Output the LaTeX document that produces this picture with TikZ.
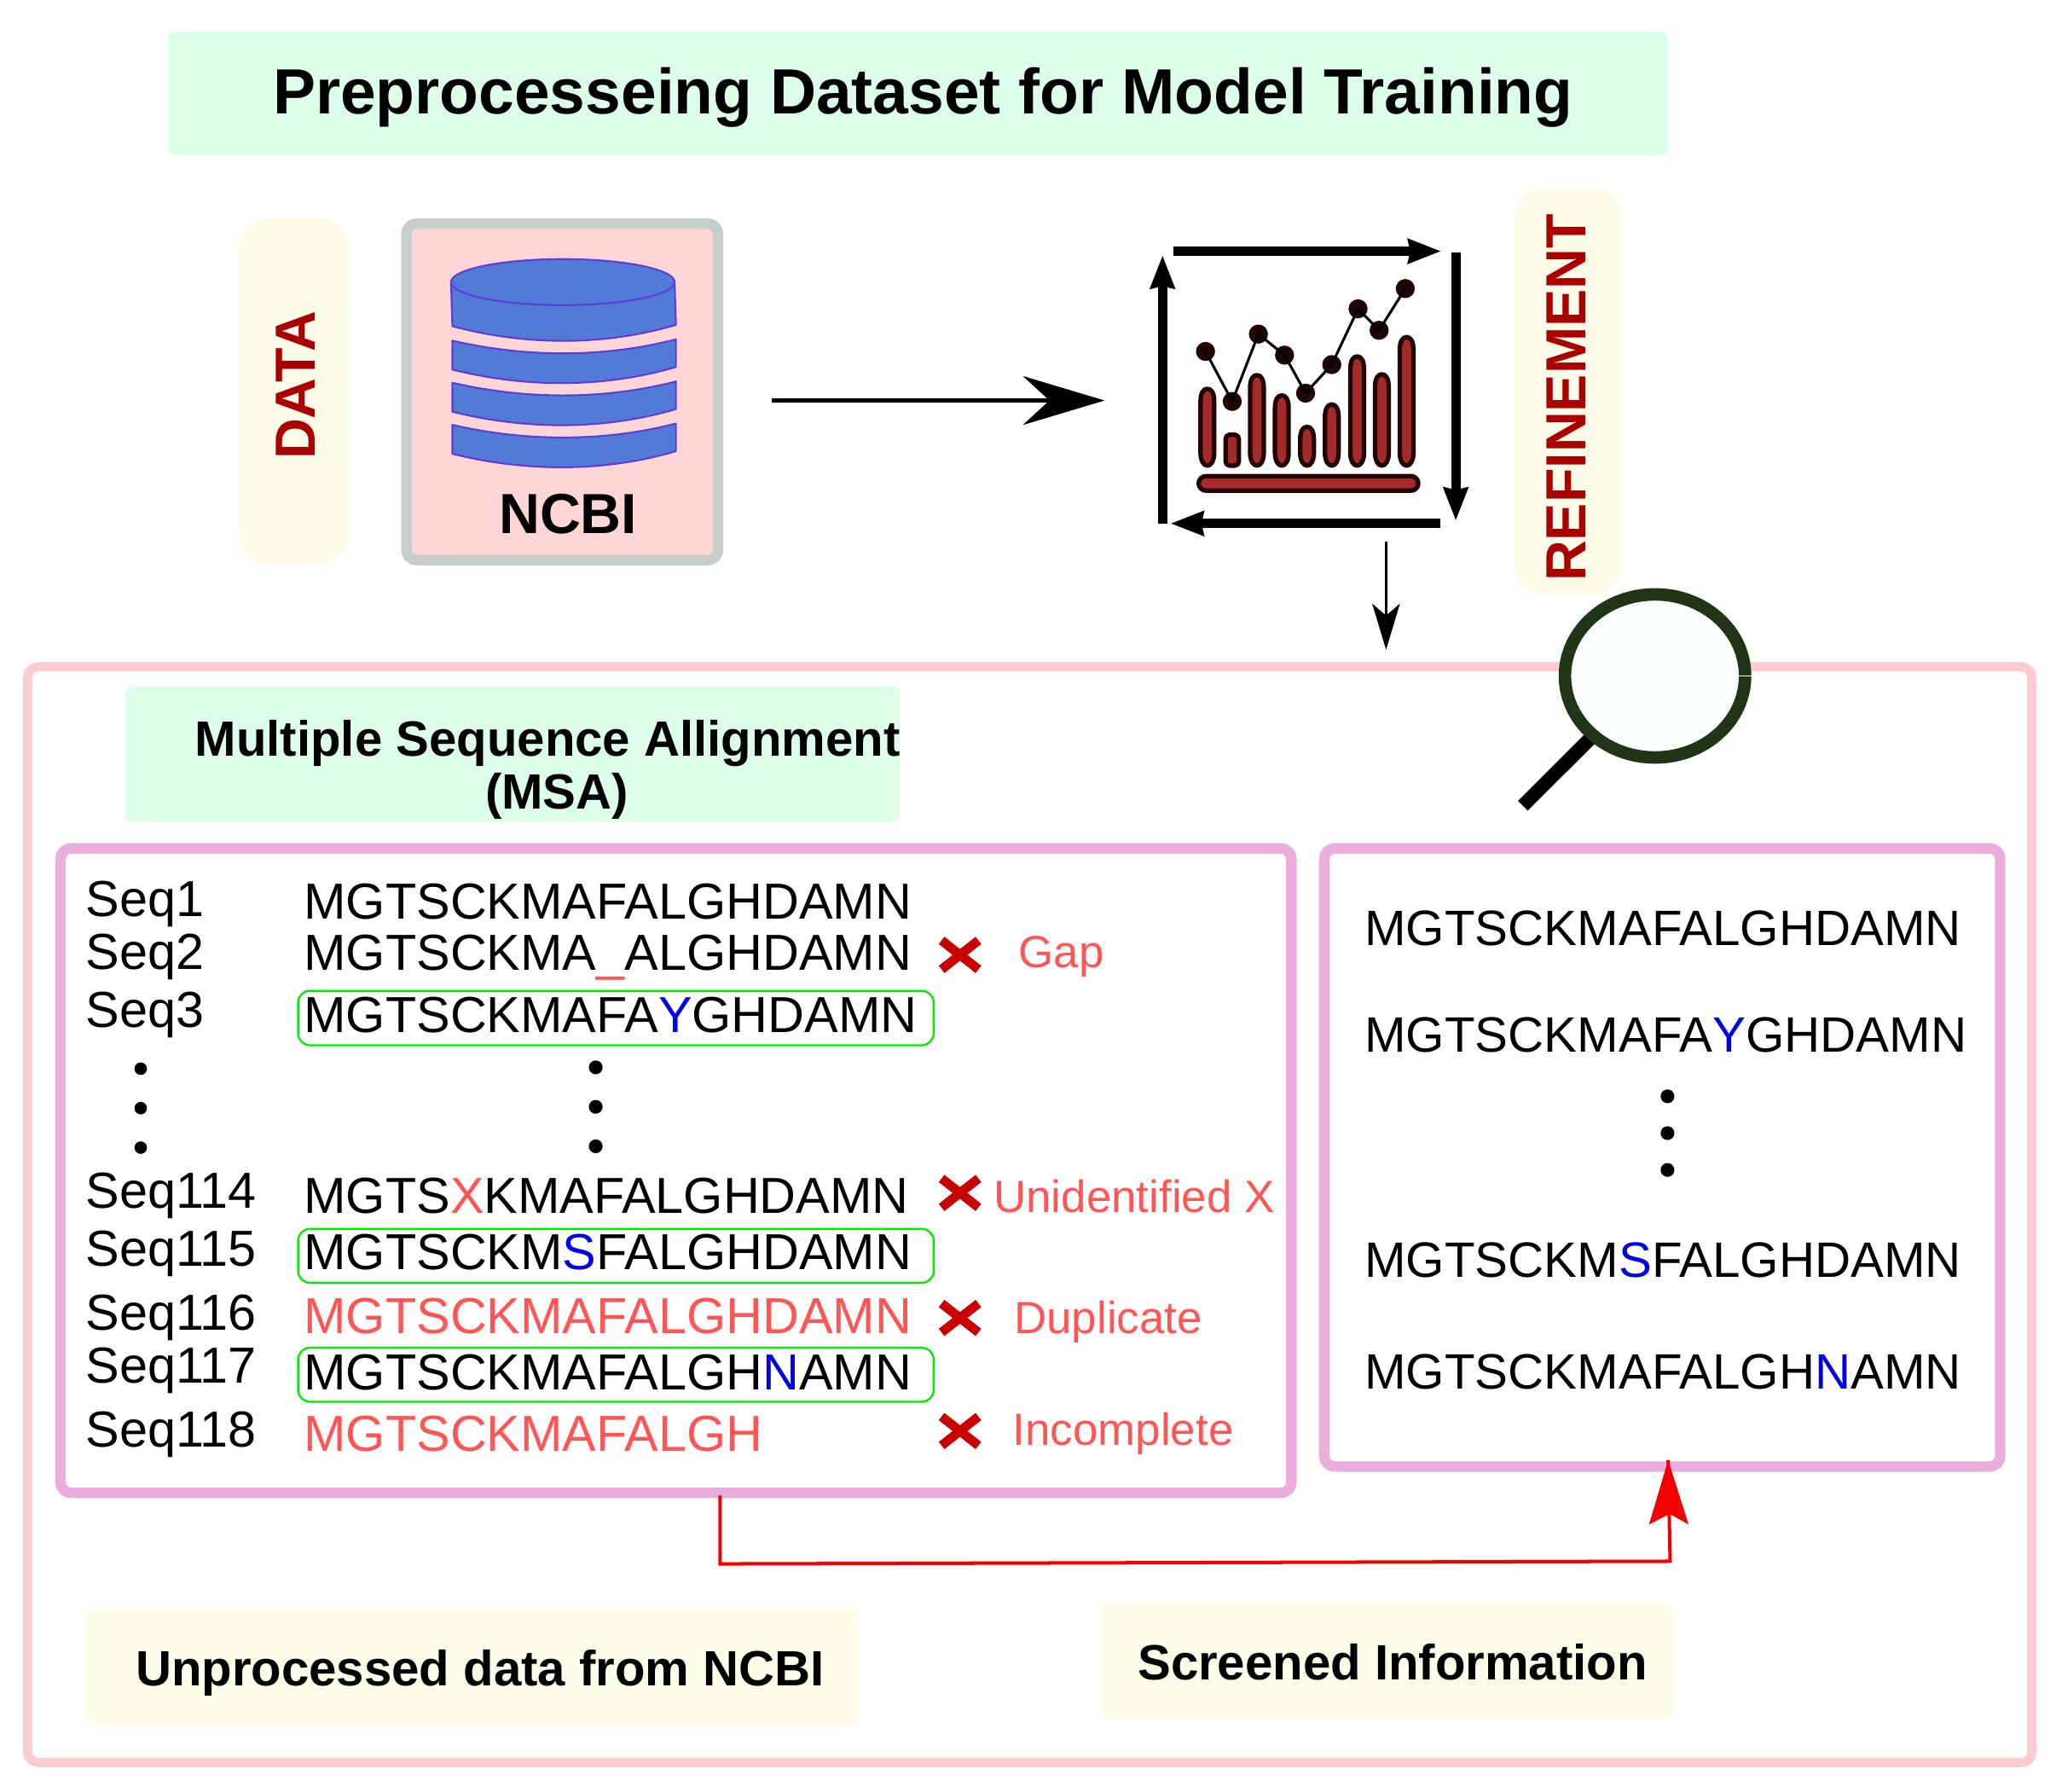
\documentclass[tikz,border=0pt]{standalone}
\usepackage{fontspec}
\setmainfont{Liberation Sans}
\usetikzlibrary{arrows.meta}
\definecolor{mint}{HTML}{DDFFE9}
\definecolor{cream}{HTML}{FDFCE9}
\definecolor{darkred}{HTML}{AA0000}
\definecolor{rosefill}{HTML}{FFD5D5}
\definecolor{graybd}{HTML}{C5CECB}
\definecolor{dbblue}{HTML}{527BD6}
\definecolor{dbline}{HTML}{5B3FD8}
\definecolor{pinkbd}{HTML}{FCCCD2}
\definecolor{orchid}{HTML}{EAADDC}
\definecolor{salmon}{HTML}{FF5555}
\definecolor{crossred}{HTML}{C80000}
\definecolor{barfill}{HTML}{A52A2A}
\definecolor{barline}{HTML}{200404}
\definecolor{lensbd}{HTML}{203515}
\definecolor{lensfill}{HTML}{FBFFFE}
\definecolor{seqblue}{HTML}{0000E6}
\newcommand{\fsz}[1]{\fontsize{#1}{#1}\selectfont}
\newcommand{\rb}[1]{{\color{seqblue}#1}}
\newcommand{\rs}[1]{{\color{salmon}#1}}
% \panel{name}{x1}{y1}{x2}{y2}{style}
\newcommand{\panel}[6]{%
  \pgfmathsetmacro{\pcx}{(#2+#4)/2}\pgfmathsetmacro{\pcy}{(#3+#5)/2}%
  \pgfmathsetmacro{\pw}{#4-#2}\pgfmathsetmacro{\ph}{#5-#3}%
  \node[#6,minimum width=\pw pt,minimum height=\ph pt,inner sep=0pt,outer sep=0pt] (#1) at (\pcx,\pcy) {};}
\newcommand{\crossmark}[2]{\draw[crossln] (#1-14,#2-11) -- (#1+14,#2+11) (#1-14,#2+11) -- (#1+14,#2-11);}
\newcommand{\band}[1]{\draw[dbshape] (344,#1) .. controls (400,#1+13) and (460,#1+13) .. (514,#1-1) -- (514,#1+20) .. controls (460,#1+36) and (400,#1+36) .. (344,#1+22) -- cycle;}
\tikzset{
  softmint/.style={rectangle,rounded corners=5pt,fill=mint},
  softcream/.style={rectangle,rounded corners=6pt,fill=cream},
  softpill/.style={rectangle,rounded corners=22pt,fill=cream},
  purplebox/.style={rectangle,rounded corners=8pt,draw=orchid,line width=8pt},
  greenbox/.style={rectangle,rounded corners=9pt,draw=green!93!black,line width=1.5pt},
  seqtxt/.style={anchor=base west,inner sep=0pt,font=\fsz{38.5}},
  cleantxt/.style={anchor=base west,inner sep=0pt,font=\fsz{37.8}},
  errtxt/.style={anchor=base west,inner sep=0pt,text=salmon,font=\fsz{34.3}},
  boldtxt/.style={inner sep=0pt,font=\fsz{37.7}\bfseries},
  sidetxt/.style={inner sep=0pt,text=darkred,rotate=90,font=\fsz{43}\bfseries},
  dbshape/.style={fill=dbblue,draw=dbline,line width=1.4pt,line join=round},
  crossln/.style={draw=crossred,line width=7pt},
  loopln/.style={line width=7pt,-{Stealth[length=25pt,width=18pt,inset=1.5pt]}},
  barshape/.style={fill=barfill,draw=barline,line width=3.4pt,line join=round},
  dotfill/.style={fill=barline,circle,inner sep=0pt,minimum size=14.5pt},
  seqdot/.style={fill=black,circle,inner sep=0pt,minimum size=9.5pt},
}
\begin{document}
\begin{tikzpicture}[x=1pt,y=-1pt]
\useasboundingbox (0,0) rectangle (1568,1361.8);
% title
\panel{titlebox}{128}{24}{1268}{118}{softmint}
\node[inner sep=0pt,font=\fsz{48.6}\bfseries] (titletxt) at (701.8,74) {Preprocesseing Dataset for Model Training};
% data
\panel{datapill}{182}{166}{265}{429}{softpill}
\node[sidetxt] (datatxt) at (225,293) {DATA};
\panel{ncbibox}{309}{170}{546}{426}{rectangle,rounded corners=8pt,fill=rosefill,draw=graybd,line width=8pt}
\draw[dbshape] (343,215) -- (344,248) .. controls (400,263) and (460,263) .. (514,247) -- (513,215) -- cycle;
\draw[dbshape] (428,214.5) ellipse [x radius=85,y radius=17.5];
\band{259}\band{291}\band{323}
\node[inner sep=0pt,font=\fsz{43}\bfseries] (ncbitxt) at (432,391) {NCBI};
% arrow to chart
\coordinate (aS) at (587,304.5);\coordinate (aE) at (840,304.5);
\draw[line width=3.6pt,-{Stealth[length=62pt,width=37pt,inset=20pt]}] (aS) -- (aE);
% loop arrows
\coordinate (l1) at (892,191);\coordinate (l2) at (1096,191);
\coordinate (l3) at (1107,192);\coordinate (l4) at (1107,396);
\coordinate (l5) at (1095,398);\coordinate (l6) at (890,398);
\coordinate (l7) at (884,398);\coordinate (l8) at (884,194);
\draw[loopln] (l1) -- (l2);
\draw[loopln] (l3) -- (l4);
\draw[loopln] (l5) -- (l6);
\draw[loopln] (l7) -- (l8);
% chart
\foreach \bx/\bt in {918.1/293.6,955.8/283.2,974.7/298.6,993.9/322.5,1012.7/305.5,1032/269,1050.8/282.6,1069.6/254.3}{
  \draw[barshape] (\bx-5.2,\bt+12) .. controls (\bx-5.2,\bt+5) and (\bx-3,\bt+2) .. (\bx,\bt+2) .. controls (\bx+3,\bt+2) and (\bx+5.2,\bt+5) .. (\bx+5.2,\bt+12) -- (\bx+5.2,344) .. controls (\bx+5.2,350) and (\bx+3,354) .. (\bx,354) .. controls (\bx-3,354) and (\bx-5.2,350) .. (\bx-5.2,344) -- cycle;
}
\draw[barshape,rounded corners=3pt] (932,330.5) rectangle (942,354);
\draw[barshape,rounded corners=5.5pt] (911.5,362) rectangle (1078.5,373);
\foreach \n/\dx/\dy in {1/916.7/267.2,2/937/305.2,3/956.9/254,4/976.8/270,5/992.8/298.9,6/1012.7/277.2,7/1032.7/234.8,8/1048.7/251.1,9/1068.6/219.4}{
  \node[dotfill] (pt\n) at (\dx,\dy) {};
}
\draw[line width=2pt,line join=round] (pt1.center)--(pt2.center)--(pt3.center)--(pt4.center)--(pt5.center)--(pt6.center)--(pt7.center)--(pt8.center)--(pt9.center);
% down arrow
\coordinate (dS) at (1054,412);\coordinate (dE) at (1054,494);
\draw[line width=1.8pt,-{Stealth[length=35pt,width=21pt,inset=9pt]}] (dS) -- (dE);
% refinement
\panel{refpill}{1151.5}{143}{1233.6}{452}{softpill}
\node[sidetxt] (reftxt) at (1191.3,302.5) {REFINEMENT};
% outer frame
\panel{outerbox}{21}{507}{1545}{1340}{rectangle,rounded corners=8pt,draw=pinkbd,line width=7pt}
% magnifier
\coordinate (h1) at (1210,560.7);\coordinate (h2) at (1158,612.6);
\draw[line width=10.5pt] (h1) -- (h2);
\draw[fill=lensfill,draw=lensbd,line width=9.5pt] (1258.5,513.9) ellipse [x radius=68.5,y radius=62];
\draw[white,line width=1pt] (1322,513.9) -- (1331.8,513.9);
% MSA title
\panel{msatitle}{95}{522}{684}{625}{softmint}
\node[boldtxt] (msa1) at (416.5,565) {Multiple Sequence Allignment};
\node[boldtxt] (msa2) at (423.5,605) {(MSA)};
% panels
\panel{msabox}{46}{645}{982}{1135}{purplebox}
\panel{cleanbox}{1007}{645}{1521}{1115}{purplebox}
\panel{g3}{226.7}{753.3}{710}{794.7}{greenbox}
\panel{g115}{226.7}{934.3}{710}{975.3}{greenbox}
\panel{g117}{226.7}{1024.7}{710}{1065.8}{greenbox}
% sequence labels
\foreach \n/\t/\by in {a/Seq1/697,b/Seq2/737,c/Seq3/781,d/Seq114/918.5,e/Seq115/962.5,f/Seq116/1011.5,g/Seq117/1051.5,h/Seq118/1100}{
  \node[seqtxt] (lab\n) at (65,\by) {\t};
}
\node[seqtxt] (s1) at (231,699) {MGTSCKMAFALGHDAMN};
\node[seqtxt] (s2) at (231,737.5) {MGTSCKMA\rs{\_}ALGHDAMN};
\node[seqtxt] (s3) at (231,785) {MGTSCKMAFA\rb{Y}GHDAMN};
\node[seqtxt] (s114) at (231,922.5) {MGTS\rs{X}KMAFALGHDAMN};
\node[seqtxt] (s115) at (231,965.5) {MGTSCKM\rb{S}FALGHDAMN};
\node[seqtxt,text=salmon] (s116) at (231,1014) {MGTSCKMAFALGHDAMN};
\node[seqtxt] (s117) at (231,1056.5) {MGTSCKMAFALGH\rb{N}AMN};
\node[seqtxt,text=salmon] (s118) at (231,1103.5) {MGTSCKMAFALGH};
\foreach \n/\yy in {a/812.5,b/842.5,c/872.5}{\node[seqdot] (ld\n) at (107,\yy) {};}
\foreach \n/\yy in {a/811.5,b/841.5,c/871.5}{\node[seqdot,minimum size=10.5pt] (md\n) at (453,\yy) {};}
% errors
\crossmark{730}{726}\crossmark{730}{907}\crossmark{730}{1002}\crossmark{730}{1088}
\node[errtxt] (e1) at (774.5,736) {Gap};
\node[errtxt] (e2) at (755.5,921.5) {Unidentified X};
\node[errtxt] (e3) at (771,1014) {Duplicate};
\node[errtxt] (e4) at (770,1099) {Incomplete};
% right panel
\node[cleantxt] (r1) at (1037.5,719) {MGTSCKMAFALGHDAMN};
\node[cleantxt] (r2) at (1037.5,800) {MGTSCKMAFA\rb{Y}GHDAMN};
\node[cleantxt] (r3) at (1037.5,971) {MGTSCKM\rb{S}FALGHDAMN};
\node[cleantxt] (r4) at (1037.5,1056) {MGTSCKMAFALGH\rb{N}AMN};
\foreach \n/\yy in {a/833.5,b/861.5,c/889.5}{\node[seqdot,minimum size=10.5pt] (rd\n) at (1268,\yy) {};}
% red connector
\coordinate (c1) at (547.5,1137);\coordinate (c2) at (547.5,1189);\coordinate (c3) at (1270,1187);\coordinate (c4) at (1268.5,1110);
\draw[red!95!black,line width=2.6pt,line join=miter] (c1) -- (c2) -- (c3) -- (c4);
\fill[red!95!black] (c4) -- (1284,1159) -- (1269.7,1151) -- (1254,1159) -- cycle;
% bottom captions
\panel{rawbox}{65}{1223}{653}{1312}{softcream}
\node[boldtxt,anchor=base west] (rawtxt) at (103,1282) {Unprocessed data from NCBI};
\panel{screenbox}{838}{1219}{1272}{1307}{softcream}
\node[boldtxt,anchor=base west] (screentxt) at (865,1277) {Screened Information};
\end{tikzpicture}
\end{document}
